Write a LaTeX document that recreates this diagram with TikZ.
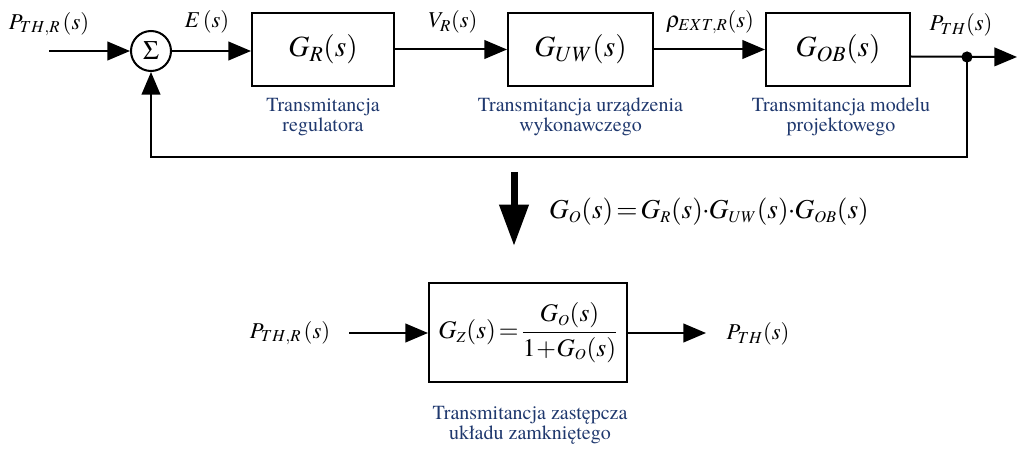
\documentclass[tikz,border=0pt]{standalone}
\usepackage{amsmath}
\usepackage{mathptmx}
\usepackage{fontspec}
\setmainfont{texgyretermes-regular.otf}
\newfontfamily\capfont{texgyretermes-regular.otf}
\usetikzlibrary{arrows.meta,calc}
\definecolor{capblue}{RGB}{31,56,110}
\newcommand{\ssb}[1]{_{\scriptscriptstyle #1}}
\newcommand{\teq}{\mathrel{\mkern-2mu=\mkern-2mu}}
\newcommand{\tdot}{\mathbin{\mkern-3mu\cdot\mkern-3mu}}
\tikzset{
  blk/.style={draw, line width=1.5pt, inner sep=0pt, minimum width=#1, minimum height=54.75pt, font=\fontsize{22}{26}\selectfont},
  sig/.style={font=\fontsize{17}{20}\selectfont, inner sep=0pt},
  captxt/.style={text=capblue, font=\capfont\fontsize{15}{15}\selectfont, align=center, inner sep=0pt},
  arr/.style={line width=1.5pt, -{Triangle[length=17pt,width=14pt]}},
}
\begin{document}
\begin{tikzpicture}[x=0.75pt,y=-0.75pt]
\useasboundingbox (0,0) rectangle (1017,449);
% top loop
\node[draw, circle, line width=1.5pt, minimum size=30pt, inner sep=0pt, font=\fontsize{20}{22}\selectfont] (sum) at (151,51) {$\Sigma$};
\coordinate (in) at (49,51);
\node[sig] (lin) at (49,24) {$P_{TH,R}\mkern2mu(s)$};
\node[sig] (lE) at (207,22) {$E\,(s)$};
\node[blk=106.5pt] (GR) at (323,49.5) {$G_R(s)$};
\node[blk=108.75pt] (GUW) at (580.5,49.5) {$G_{UW}(s)$};
\node[blk=108pt] (GOB) at (838,49.5) {$G_{OB}(s)$};
\node[sig] (lV) at (453,22) {$V_R(s)$};
\node[sig] (lrho) at (710,22) {$\rho_{EXT,R}(s)$};
\node[sig] (lP) at (961,25) {$P_{TH}(s)$};
\coordinate (out) at (1017,57);
\coordinate (br) at (967,57);
\coordinate (fb) at (967,157);
\fill (br) circle[radius=4.2pt];

\draw[arr] (in) -- (sum.west);
\draw[arr] (sum.east) -- (GR.west |- sum.east);
\draw[arr] (GR.east) -- (GUW.west);
\draw[arr] (GUW.east) -- (GOB.west);
\draw[arr] ([yshift=-5.25pt]GOB.east) -- (out);
\draw[arr] (br) -- (fb) -| (sum.south);

\node[captxt] (cR) at (323,117) {Transmitancja\\regulatora};
\node[captxt] (cUW) at (580.5,117) {Transmitancja urządzenia\\wykonawczego};
\node[captxt] (cOB) at (841,117) {Transmitancja modelu\\projektowego};

% big arrow
\coordinate (ba1) at (514,172);
\coordinate (ba2) at (514,246);
\draw[line width=5.25pt, -{Triangle[length=31pt,width=21pt]}] (ba1) -- (ba2);
\node[font=\fontsize{20.5}{24}\selectfont, inner sep=0pt] (eq) at (709,212) {$G\ssb{O}(s)\teq G\ssb{R}(s)\tdot G\ssb{UW}(s)\tdot G\ssb{OB}(s)$};

% bottom
\node[sig] (bin) at (290,333) {$P_{TH,R}\mkern2mu(s)$};
\node[draw, line width=1.5pt, inner sep=0pt, minimum width=148.5pt, minimum height=74.25pt, font=\fontsize{19}{23}\selectfont] (GZ) at (528,332.5) {$G\ssb{Z}(s)\teq\dfrac{G\ssb{O}(s)}{1\mkern-2mu+\mkern-2mu G\ssb{O}(s)}$};
\coordinate (bi) at (349,333);
\coordinate (bo) at (706,333);
\node[sig] (bout) at (758,334) {$P_{TH}(s)$};
\draw[arr] (bi) -- (GZ.west |- bi);
\draw[arr] (GZ.east |- bo) -- (bo);
\node[captxt] (cZ) at (530,425) {Transmitancja zastępcza\\układu zamkniętego};
\end{tikzpicture}
\end{document}
